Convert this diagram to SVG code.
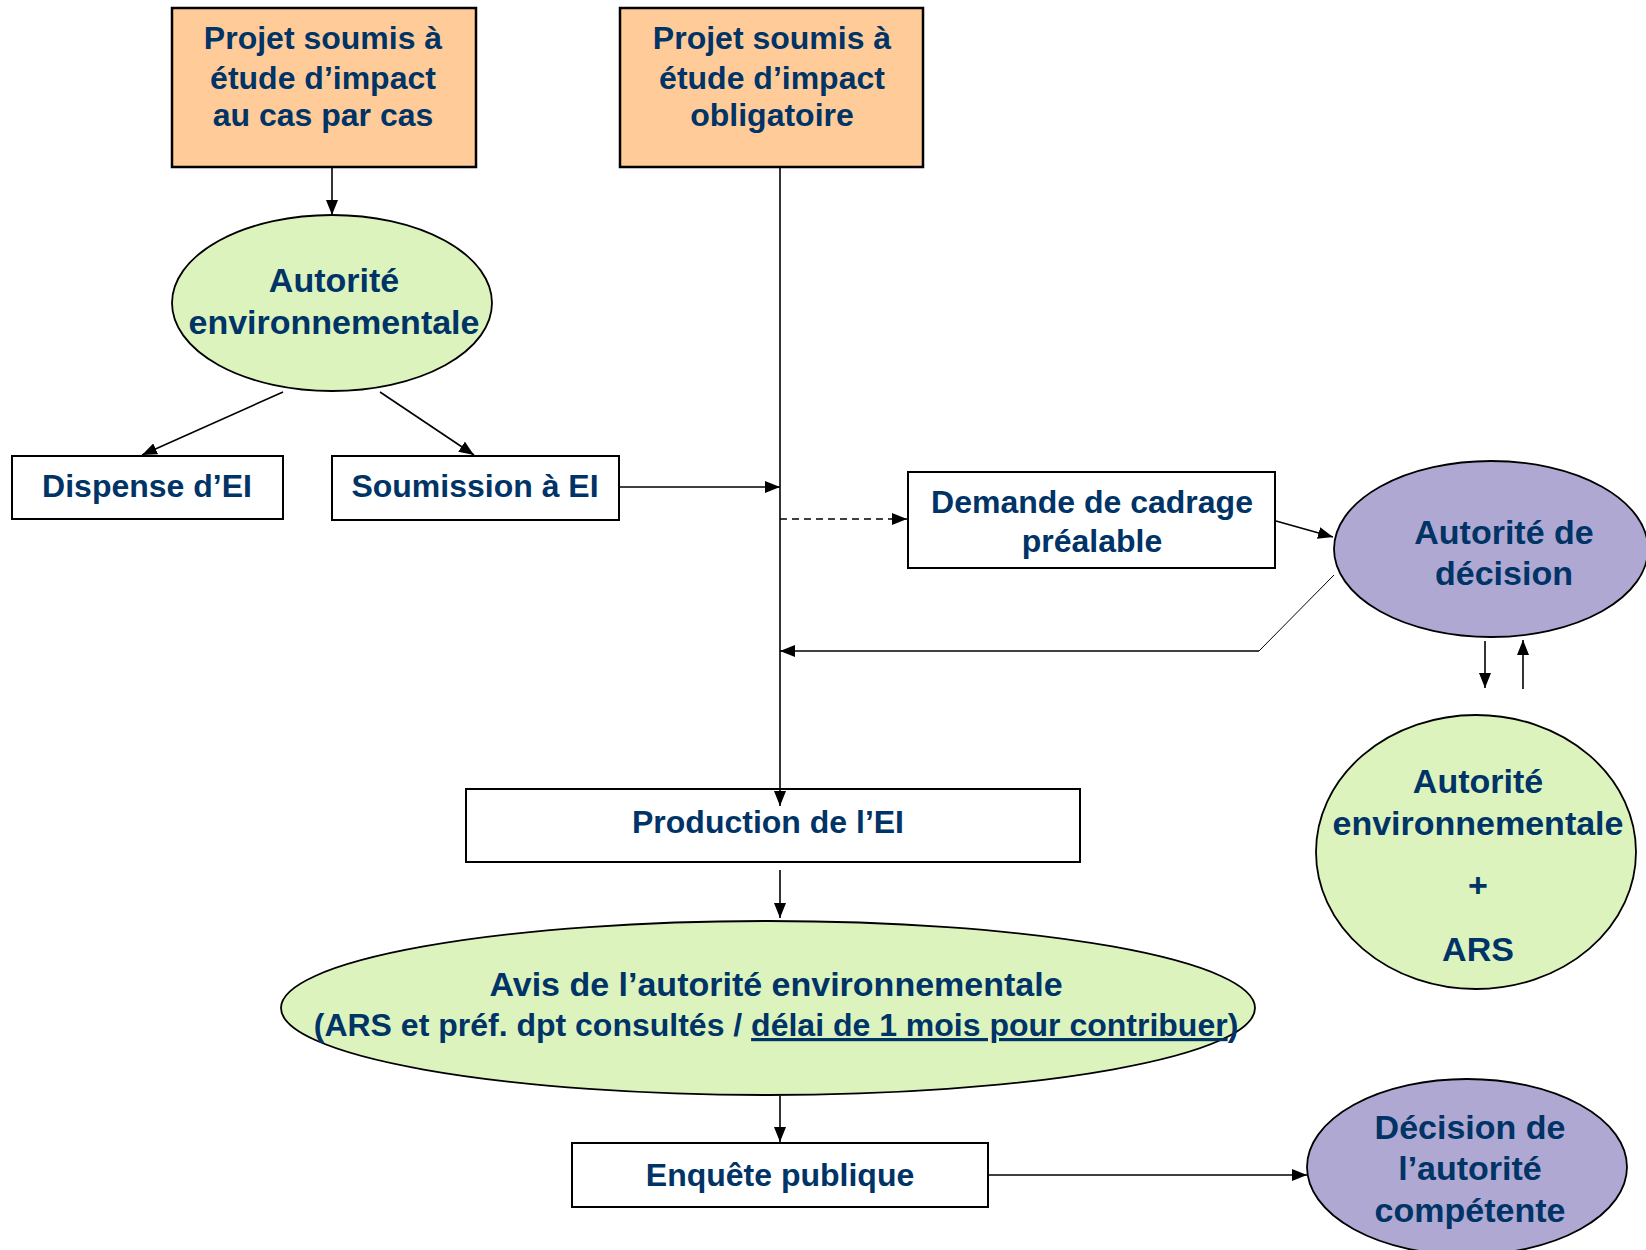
<svg xmlns="http://www.w3.org/2000/svg" width="1646" height="1250" viewBox="0 0 1646 1250">
<style>
.box{fill:#fff;stroke:#000;stroke-width:2}
.proj{fill:#FFCC99;stroke:#000;stroke-width:2.5}
.green{fill:#DCF3BE;stroke:#000;stroke-width:1.8}
.purple{fill:#AFA8D2;stroke:#000;stroke-width:1.8}
.t{font-family:"Liberation Sans",Arial,sans-serif;font-weight:bold;fill:#003366;text-anchor:middle}
.s32{font-size:32px}
.s34{font-size:34px}
.c{fill:none;stroke:#000;stroke-width:1.6}
.thin{fill:none;stroke:#000;stroke-width:1}
</style>
<defs>
<marker id="ah" viewBox="0 0 15 12" refX="15" refY="6" markerWidth="15" markerHeight="12" markerUnits="userSpaceOnUse" orient="auto">
<path d="M0,0 L15,6 L0,12 Z" fill="#000"/>
</marker>
</defs>
<rect width="1646" height="1250" fill="#fff"/>

<g id="projet-cas">
<rect class="proj" x="172" y="8" width="304" height="159"/>
<text class="t s32" x="323" y="49">Projet soumis à</text>
<text class="t s32" x="323" y="89">étude d’impact</text>
<text class="t s32" x="323" y="126">au cas par cas</text>
</g>

<g id="projet-oblig">
<rect class="proj" x="620" y="8" width="303" height="159"/>
<text class="t s32" x="772" y="49">Projet soumis à</text>
<text class="t s32" x="772" y="89">étude d’impact</text>
<text class="t s32" x="772" y="126">obligatoire</text>
</g>

<g id="autorite-env-1">
<ellipse class="green" cx="332" cy="303" rx="160" ry="88"/>
<text class="t s34" x="334" y="292">Autorité</text>
<text class="t s34" x="334" y="334">environnementale</text>
</g>

<g id="dispense">
<rect class="box" x="12" y="456" width="271" height="63"/>
<text class="t s32" x="147" y="497">Dispense d’EI</text>
</g>

<g id="soumission">
<rect class="box" x="332" y="456" width="287" height="64"/>
<text class="t s32" x="475" y="497">Soumission à EI</text>
</g>

<g id="demande">
<rect class="box" x="908" y="472" width="367" height="96"/>
<text class="t s32" x="1092" y="513">Demande de cadrage</text>
<text class="t s32" x="1092" y="552">préalable</text>
</g>

<g id="autorite-decision">
<ellipse class="purple" cx="1491" cy="549" rx="157" ry="88"/>
<text class="t s34" x="1504" y="544">Autorité de</text>
<text class="t s34" x="1504" y="585">décision</text>
</g>

<g id="autorite-env-ars">
<ellipse class="green" cx="1476" cy="852" rx="160" ry="137"/>
<text class="t s34" x="1478" y="793">Autorité</text>
<text class="t s34" x="1478" y="835">environnementale</text>
<text class="t s34" x="1478" y="897">+</text>
<text class="t s34" x="1478" y="961">ARS</text>
</g>

<g id="production">
<rect class="box" x="466" y="789" width="614" height="73"/>
<text class="t s32" x="768" y="833">Production de l’EI</text>
</g>

<g id="avis">
<ellipse class="green" cx="768" cy="1008" rx="487" ry="87"/>
<text class="t s34" x="776" y="996">Avis de l’autorité environnementale</text>
<text class="t s32" x="776" y="1036">(ARS et préf. dpt consultés / <tspan text-decoration="underline">délai de 1 mois pour contribuer</tspan>)</text>
</g>

<g id="enquete">
<rect class="box" x="572" y="1143" width="416" height="64"/>
<text class="t s32" x="780" y="1186">Enquête publique</text>
</g>

<g id="decision">
<ellipse class="purple" cx="1467" cy="1167" rx="160" ry="88"/>
<text class="t s34" x="1470" y="1139">Décision de</text>
<text class="t s34" x="1470" y="1180">l’autorité</text>
<text class="t s34" x="1470" y="1222">compétente</text>
</g>

<g id="connectors">
<line class="c" x1="332" y1="168" x2="332" y2="215" marker-end="url(#ah)"/>
<line class="c" x1="283" y1="392" x2="142" y2="455" marker-end="url(#ah)"/>
<line class="c" x1="380" y1="392" x2="474" y2="455" marker-end="url(#ah)"/>
<line class="c" x1="780" y1="168" x2="780" y2="806" marker-end="url(#ah)"/>
<line class="c" x1="620" y1="487" x2="780" y2="487" marker-end="url(#ah)"/>
<line class="c" x1="780" y1="519" x2="907" y2="519" stroke-dasharray="7,5" marker-end="url(#ah)"/>
<line class="c" x1="1276" y1="521" x2="1333" y2="537" marker-end="url(#ah)"/>
<polyline class="thin" points="1334,575 1259,651"/>
<line class="c" x1="1259" y1="651" x2="780" y2="651" marker-end="url(#ah)"/>
<line class="c" x1="1485" y1="641" x2="1485" y2="688" marker-end="url(#ah)"/>
<line class="c" x1="1523" y1="689" x2="1523" y2="640" marker-end="url(#ah)"/>
<line class="c" x1="780" y1="870" x2="780" y2="918" marker-end="url(#ah)"/>
<line class="c" x1="780" y1="1096" x2="780" y2="1142" marker-end="url(#ah)"/>
<line class="c" x1="989" y1="1175" x2="1307" y2="1175" marker-end="url(#ah)"/>
</g>
</svg>
